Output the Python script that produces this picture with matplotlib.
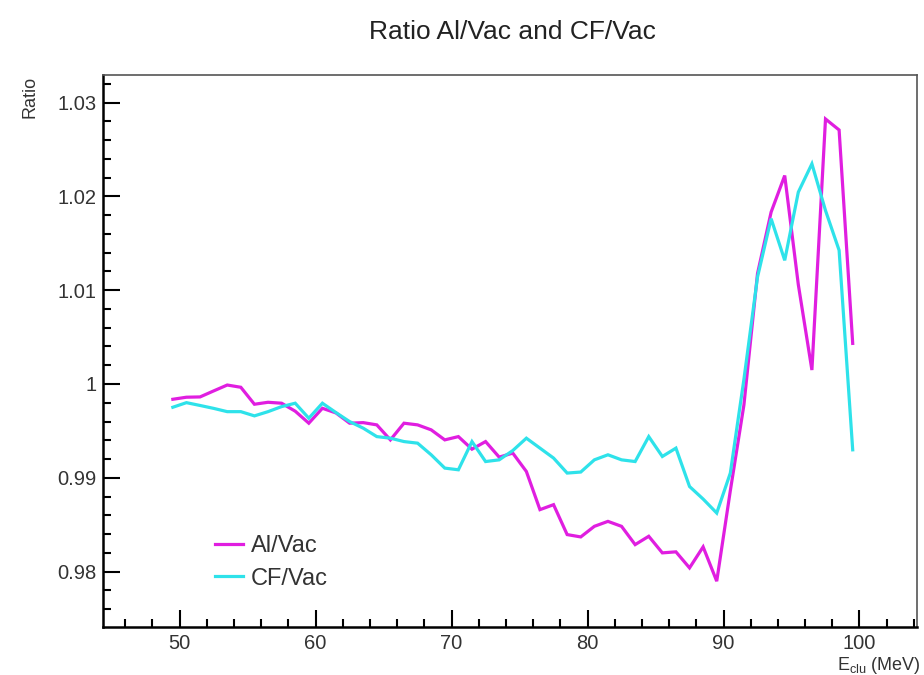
import matplotlib
matplotlib.use("Agg")
import matplotlib.pyplot as plt
from matplotlib.ticker import MultipleLocator
from matplotlib.lines import Line2D

plt.rcParams['font.family'] = ['Liberation Sans', 'DejaVu Sans']
plt.rcParams['mathtext.fontset'] = 'custom'
plt.rcParams['mathtext.rm'] = 'Liberation Sans'

energy = [49.5 + i for i in range(51)]

al_vac = [0.99837, 0.99859, 0.99862, 0.99926, 0.99989, 0.99965, 0.99784, 0.99805,
          0.99795, 0.99710, 0.99582, 0.99741, 0.99691, 0.99582, 0.99588, 0.99564,
          0.99404, 0.99582, 0.99564, 0.99511, 0.99404, 0.99439, 0.99305, 0.99386,
          0.99220, 0.99263, 0.99067, 0.98660, 0.98713, 0.98394, 0.98369, 0.98482,
          0.98535, 0.98482, 0.98287, 0.98376, 0.98199, 0.98210, 0.98039, 0.98263,
          0.97897, 0.98862, 0.99777, 1.01178, 1.01833, 1.02223, 1.01060, 1.00149,
          1.02826, 1.02709, 1.00433]

cf_vac = [0.99752, 0.99801, 0.99771, 0.99740, 0.99705, 0.99705, 0.99660, 0.99705,
          0.99759, 0.99795, 0.99635, 0.99795, 0.99695, 0.99599, 0.99529, 0.99439,
          0.99422, 0.99386, 0.99369, 0.99245, 0.99103, 0.99085, 0.99386, 0.99173,
          0.99191, 0.99290, 0.99422, 0.99316, 0.99210, 0.99050, 0.99061, 0.99191,
          0.99245, 0.99191, 0.99173, 0.99439, 0.99227, 0.99316, 0.98907, 0.98773,
          0.98624, 0.99050, 1.00050, 1.01141, 1.01763, 1.01319, 1.02046, 1.02348,
          1.01850, 1.01426, 0.99298]

x_ticks = [50, 60, 70, 80, 90, 100]
x_tick_labels = ['50', '60', '70', '80', '90', '100']
y_ticks = [0.98, 0.99, 1.00, 1.01, 1.02, 1.03]
y_tick_labels = ['0.98', '0.99', '1', '1.01', '1.02', '1.03']

magenta = '#e01ee0'
cyan = '#2ee2ea'

fig = plt.figure(figsize=(9.24, 6.75), dpi=100)
ax = fig.add_axes([0.112, 0.0716, 0.880, 0.8174])

ax.plot(energy, al_vac, color=magenta, lw=2.3, solid_joinstyle='miter')
ax.plot(energy, cf_vac, color=cyan, lw=2.3, solid_joinstyle='miter')

ax.set_xlim(44.4, 104.2)
ax.set_ylim(0.97412, 1.03296)

ax.set_xticks(x_ticks)
ax.set_xticklabels(x_tick_labels)
ax.set_yticks(y_ticks)
ax.set_yticklabels(y_tick_labels)
ax.xaxis.set_minor_locator(MultipleLocator(2))
ax.yaxis.set_minor_locator(MultipleLocator(0.002))

ax.tick_params(axis='both', which='major', direction='in', length=12, width=1.5,
               labelsize=14.5, colors='black', labelcolor='#333333')
ax.tick_params(axis='both', which='minor', direction='in', length=6, width=1.5)
ax.tick_params(axis='x', which='major', pad=5)
ax.tick_params(axis='y', which='major', pad=5)
ax.tick_params(top=False, right=False, which='both')

for side in ['left', 'bottom']:
    ax.spines[side].set_linewidth(1.8)
for side in ['top', 'right']:
    ax.spines[side].set_linewidth(1.2)
    ax.spines[side].set_color('#555555')

fig.text(0.555, 0.952, 'Ratio Al/Vac and CF/Vac', ha='center', va='center',
         fontsize=19, color='#222222')
fig.text(0.033, 0.888, 'Ratio', rotation=90, ha='center', va='top',
         fontsize=13, color='#333333')
fig.text(0.996, 0.014, r'E$_{\mathrm{clu}}$ (MeV)', ha='right', va='center',
         fontsize=13, color='#333333')

handles = [Line2D([0], [0], color=magenta, lw=2.3),
           Line2D([0], [0], color=cyan, lw=2.3)]
leg = ax.legend(handles, ['Al/Vac', 'CF/Vac'], loc='lower left',
                bbox_to_anchor=(0.125, 0.05), frameon=False, fontsize=17,
                handlelength=1.2, handletextpad=0.35, labelspacing=0.45,
                borderaxespad=0)
for t in leg.get_texts():
    t.set_color('#333333')

fig.savefig('out.png', dpi=100)
